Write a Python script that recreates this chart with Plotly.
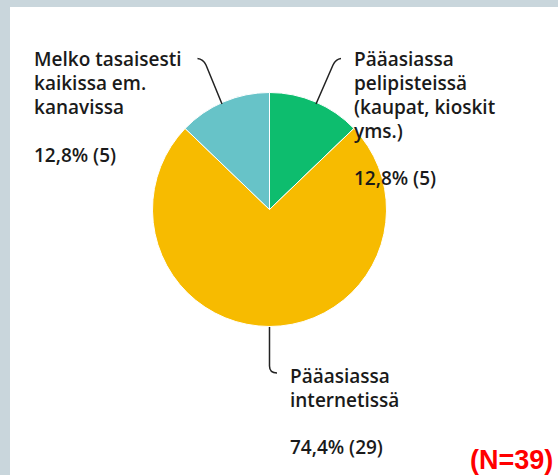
import plotly.graph_objects as go

# ---- data ----
categories = [
    "Pääasiassa<br>pelipisteissä<br>(kaupat, kioskit<br>yms.)",
    "Pääasiassa<br>internetissä",
    "Melko tasaisesti<br>kaikissa em.<br>kanavissa",
]
counts = [5, 29, 5]
colors = ["#0dbd6e", "#f7bb00", "#67c3c8"]
n_label = "(N=39)"

W, H = 558, 475
total = sum(counts)
pct_labels = [f"{c / total * 100:.1f}".replace(".", ",") + f"% ({c})" for c in counts]


def X(px):
    return px / W


def Y(py):
    return 1 - py / H


# pie geometry (pixels)
cx, cy, r = 269.5, 209.5, 117

fig = go.Figure(
    go.Pie(
        labels=categories,
        values=counts,
        marker=dict(colors=colors, line=dict(color="white", width=1)),
        sort=False,
        direction="clockwise",
        rotation=0,
        textinfo="none",
        hoverinfo="label+percent",
        showlegend=False,
        domain=dict(x=[X(cx - r), X(cx + r)], y=[Y(cy + r), Y(cy - r)]),
    )
)

FONT = "Open Sans"
FS = 19
LH = 24
txt_font = dict(family=FONT, size=FS, color="#1a1a1a", weight=600)

# label positions: (left x px, first line center y px, pct center y px)
label_pos = [(352, 59, 178), (288, 376, 447), (32, 59, 155)]

annotations = []
for cat, pct, (lx, ly, py) in zip(categories, pct_labels, label_pos):
    for i, line in enumerate(cat.split("<br>")):
        annotations.append(
            dict(
                text=line, x=X(lx), y=Y(ly + i * LH), xref="paper", yref="paper",
                xanchor="left", yanchor="middle", align="left", showarrow=False, font=txt_font,
            )
        )
    annotations.append(
        dict(
            text=pct, x=X(lx), y=Y(py), xref="paper", yref="paper",
            xanchor="left", yanchor="middle", align="left", showarrow=False, font=txt_font,
        )
    )

annotations.append(
    dict(
        text=f"<b>{n_label}</b>", x=X(555), y=Y(460), xref="paper", yref="paper",
        xanchor="right", yanchor="middle", showarrow=False,
        font=dict(family="Liberation Sans", size=27, color="#ff0000"),
    )
)


def path(pts_cmd):
    out = []
    for cmd, *pts in pts_cmd:
        coords = " ".join(f"{X(px):.5f},{Y(py):.5f}" for px, py in pts)
        out.append(f"{cmd} {coords}")
    return " ".join(out)


line_style = dict(color="#222222", width=1.5)
shapes = [
    # border bands
    dict(type="rect", xref="paper", yref="paper", x0=0, x1=1, y0=Y(7), y1=1,
         fillcolor="#c9d6dc", line=dict(width=0), layer="below"),
    dict(type="rect", xref="paper", yref="paper", x0=0, x1=X(10), y0=0, y1=1,
         fillcolor="#c9d6dc", line=dict(width=0), layer="below"),
    # connectors
    dict(type="path", xref="paper", yref="paper", line=line_style,
         path=path([("M", (197.5, 58.5)), ("Q", (203, 59), (206, 65)), ("L", (222, 104))])),
    dict(type="path", xref="paper", yref="paper", line=line_style,
         path=path([("M", (341, 58.5)), ("Q", (336, 59), (333, 65)), ("L", (316, 104))])),
    dict(type="path", xref="paper", yref="paper", line=line_style,
         path=path([("M", (269.5, 327)), ("L", (269.5, 366)), ("Q", (269.5, 373), (277, 373))])),
]

fig.update_layout(
    width=W, height=H,
    margin=dict(l=0, r=0, t=0, b=0),
    paper_bgcolor="white", plot_bgcolor="white",
    annotations=annotations, shapes=shapes,
)

fig.write_html(
    "out.html",
    config=dict(displayModeBar=False),
    post_script="document.body.style.margin='0';document.body.style.overflow='hidden';",
)
